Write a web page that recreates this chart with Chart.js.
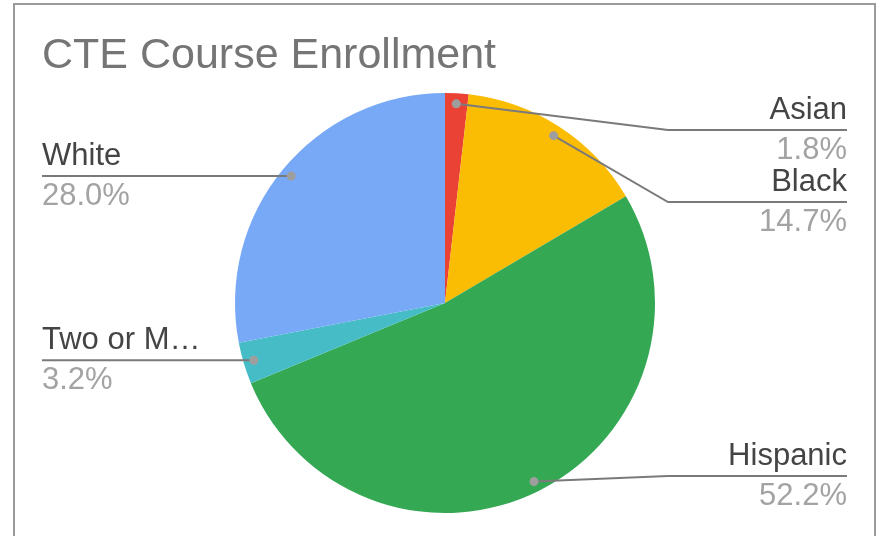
<!DOCTYPE html>
<html>
<head>
<meta charset="utf-8">
<script src="https://cdn.jsdelivr.net/npm/chart.js@4"></script>
<style>
  html, body { margin: 0; padding: 0; background: #fff; }
  #wrap { position: relative; width: 881px; height: 536px; overflow: hidden; }
  #frame { position: absolute; left: 13px; top: 3px; width: 863px; height: 560px; border: 2px solid #9a9a9a; box-sizing: border-box; }
  canvas { position: absolute; left: 0; top: 0; }
</style>
</head>
<body>
<div id="wrap">
  <div id="frame"></div>
  <canvas id="pieChart" width="881" height="536"></canvas>
</div>
<script>
var PIECHART = document.getElementById('pieChart');

// slices, clockwise from 12 o'clock
var categories = ["Asian", "Black", "Hispanic", "Two or More Races", "White"];
var percents = [1.8, 14.7, 52.2, 3.2, 28.0];
var sliceColors = ['#ea4335', '#fbbc04', '#34a853', '#46bdc6', '#78a9f6'];
var chartTitle = 'CTE Course Enrollment';

var FONT = '"Liberation Sans", Arial, sans-serif';

function fitText(ctx, text, maxW) {
    if (ctx.measureText(text).width <= maxW) return text;
    var s = text;
    while (s.length > 1 && ctx.measureText(s + '\u2026').width > maxW) {
        s = s.slice(0, -1);
    }
    return s.replace(/\s+$/, '') + '\u2026';
}

// google-sheets style title, leader lines + labels
var leaderLabels = {
    id: 'leaderLabels',
    afterDraw: function (chart) {
        var ctx = chart.ctx;
        var meta = chart.getDatasetMeta(0);
        var data = chart.data.datasets[0].data;
        var left = [], right = [];

        ctx.save();
        ctx.font = '43px ' + FONT;
        ctx.fillStyle = '#757575';
        ctx.textAlign = 'left';
        ctx.textBaseline = 'alphabetic';
        ctx.fillText(chartTitle, 42, 68);
        ctx.restore();

        meta.data.forEach(function (arc, i) {
            var mid = (arc.startAngle + arc.endAngle) / 2;
            var r = arc.outerRadius * 0.95;
            var p = {
                i: i,
                cx: arc.x, R: arc.outerRadius,
                dx: arc.x + Math.cos(mid) * r,
                dy: arc.y + Math.sin(mid) * r
            };
            (Math.cos(mid) >= 0 ? right : left).push(p);
        });

        function layout(list) {
            list.sort(function (a, b) { return a.dy - b.dy; });
            var prev = -Infinity;
            list.forEach(function (p) {
                var y = Math.min(Math.max(p.dy, 130), 476);
                y = Math.max(y, prev + 72);
                p.ly = y;
                prev = y;
            });
            for (var k = list.length - 1; k >= 0; k--) {
                var lim = k == list.length - 1 ? 476 : list[k + 1].ly - 72;
                if (list[k].ly > lim) list[k].ly = lim;
            }
        }
        layout(left);
        layout(right);

        function drawOne(p, side) {
            var elbowX, endX;
            if (side == 'right') {
                elbowX = p.cx + p.R + 13;
                endX = 847;
            } else {
                elbowX = p.cx - p.R - 13;
                endX = 42;
            }
            ctx.save();
            ctx.strokeStyle = '#7a7a7a';
            ctx.lineWidth = 2;
            ctx.beginPath();
            ctx.moveTo(p.dx, p.dy);
            if ((side == 'right' && elbowX > p.dx) || (side == 'left' && elbowX < p.dx)) {
                ctx.lineTo(elbowX, p.ly);
            }
            ctx.lineTo(endX, p.ly);
            ctx.stroke();

            ctx.fillStyle = '#9e9e9e';
            ctx.beginPath();
            ctx.arc(p.dx, p.dy, 4.5, 0, Math.PI * 2);
            ctx.fill();

            ctx.textAlign = side == 'right' ? 'right' : 'left';
            ctx.textBaseline = 'alphabetic';
            ctx.font = '31px ' + FONT;
            ctx.fillStyle = '#444444';
            var name = fitText(ctx, chart.data.labels[p.i], 170);
            ctx.fillText(name, endX, p.ly - 11);
            ctx.fillStyle = '#a3a3a3';
            ctx.fillText(data[p.i].toFixed(1) + '%', endX, p.ly + 29);
            ctx.restore();
        }
        right.forEach(function (p) { drawOne(p, 'right'); });
        left.forEach(function (p) { drawOne(p, 'left'); });
    }
};

let pieChart = new Chart(PIECHART, {
    type: 'pie',
    data: {
        labels: categories,
        datasets: [{
            data: percents,
            backgroundColor: sliceColors,
            borderWidth: 0,
            hoverOffset: 0,
            offset: 0
        }]
    },
    options: {
        responsive: false,
        animation: false,
        events: [],
        layout: {
            padding: { left: 235, right: 226, top: 93, bottom: 23 }
        },
        plugins: {
            legend: { display: false },
            tooltip: { enabled: false },
            title: { display: false }
        }
    },
    plugins: [leaderLabels]
});
</script>
</body>
</html>
